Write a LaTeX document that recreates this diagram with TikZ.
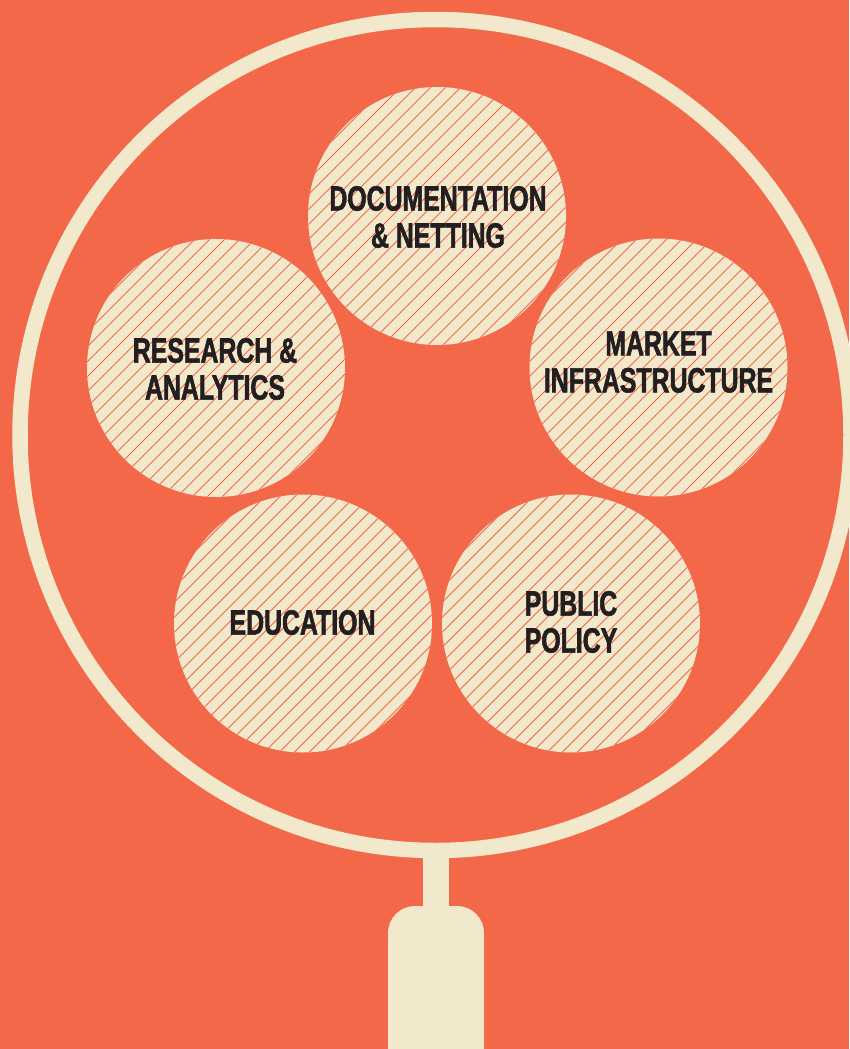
\documentclass[tikz,border=0pt]{standalone}
\usepackage{fontspec}
\setmainfont[FakeStretch=0.71, BoldFeatures={FakeBold=1.6}]{Liberation Sans}
\usetikzlibrary{calc}

\definecolor{coral}{HTML}{F26849}
\definecolor{cream}{HTML}{F2E8CB}
\definecolor{ink}{HTML}{231F20}

\tikzset{
	topic/.style={circle, fill=cream, minimum size=258pt, inner sep=0pt,
		path picture={
			\foreach \k in {-14,...,14}
				\draw[coral, line width=0.9pt]
					($(path picture bounding box.center) + (\k*15 - 150, 150)$) -- ++(300, -300);
		}},
	caption/.style={font=\bfseries\fontsize{35}{37}\selectfont, text=ink,
		align=center, inner sep=0pt},
}

\begin{document}
\begin{tikzpicture}[x=1pt, y=-1pt]
	\def\rlens{415.5};

	\fill[coral] (0,0) rectangle (849,1049);
	\useasboundingbox (0,0) rectangle (849,1049);

	\coordinate (lens) at (435.5,435);

	% handle: stem and grip
	\fill[cream] (422.5,852) rectangle (449,912);
	\fill[cream, rounded corners=27pt] (388,1090) -- (388,906) -- (484,906) -- (484,1090) -- cycle;

	% the glass rim
	\draw[cream, line width=15.5pt] (lens) circle [radius=\rlens];

	% topics
	\node[topic] (docs) at (437,216) {};
	\node[topic] (research) at (216,368) {};
	\node[topic] (market) at (658.5,367.5) {};
	\node[topic] (education) at (303,623.5) {};
	\node[topic] (policy) at (571,623.5) {};

	\node[caption] (docs-text) at (438,217) {DOCUMENTATION\\\& NETTING};
	\node[caption] (research-text) at (215,369) {RESEARCH \&\\ANALYTICS};
	\node[caption] (market-text) at (658.5,362) {MARKET\\INFRASTRUCTURE};
	\node[caption] (education-text) at (302.5,622.5) {EDUCATION};
	\node[caption] (policy-text) at (571,622) {PUBLIC\\POLICY};
\end{tikzpicture}
\end{document}
